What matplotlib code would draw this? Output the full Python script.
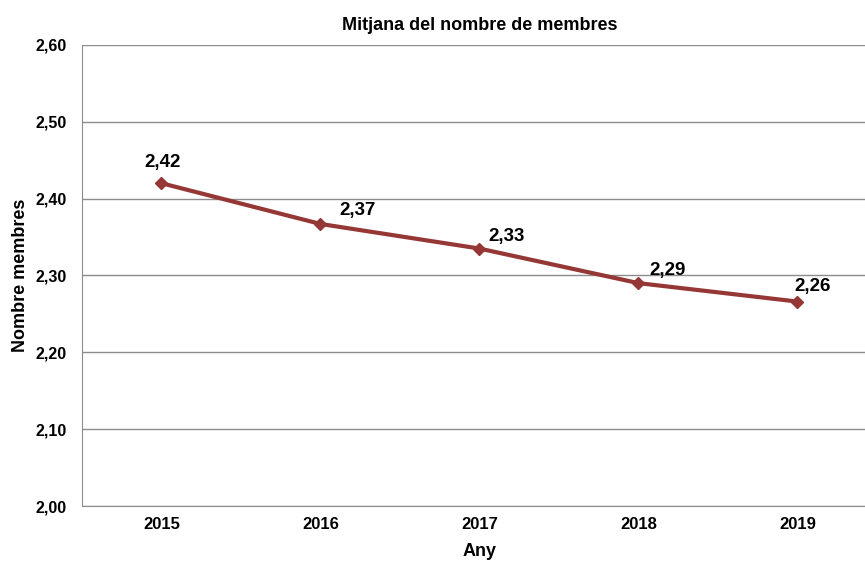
import matplotlib
matplotlib.use('Agg')
import matplotlib.pyplot as plt

plt.rcParams['font.family'] = ['Liberation Sans', 'DejaVu Sans']

# data
years = ['2015', '2016', '2017', '2018', '2019']
members = [2.42, 2.367, 2.335, 2.29, 2.266]
value_labels = ['2,42', '2,37', '2,33', '2,29', '2,26']
yticks = [2.00, 2.10, 2.20, 2.30, 2.40, 2.50, 2.60]

fig = plt.figure(figsize=(8.65, 5.61), dpi=100)
# plot area runs slightly past the right edge of the image, as in the original
ax = fig.add_axes([0.0948, 0.098, 0.919, 0.822])

x = list(range(len(years)))
ax.plot(x, members, color='#953735', linewidth=3, marker='D', markersize=6,
        zorder=3, clip_on=False)

# label offsets in pixels (right/above the points like in the original)
offsets = [(1, 21), (37, 13), (27, 12), (29, 13), (15, 15)]
for xi, v, lab, off in zip(x, members, value_labels, offsets):
    ax.annotate(lab, (xi, v), xytext=off, textcoords='offset pixels',
                ha='center', va='center', fontsize=13.5, fontweight='bold')

ax.set_xlim(-0.5, len(years) - 0.5)
ax.set_ylim(2.0, 2.6)
ax.set_xticks(x)
ax.set_xticklabels(years, fontsize=12, fontweight='bold')
ax.set_yticks(yticks)
ax.set_yticklabels([f'{t:.2f}'.replace('.', ',') for t in yticks], fontsize=11.5, fontweight='bold')
ax.tick_params(length=0)
ax.tick_params(axis='y', pad=11)
ax.tick_params(axis='x', pad=8)

ax.grid(axis='y', color='#8c8c8c', linewidth=1)
ax.set_axisbelow(True)
for s in ['top', 'right']:
    ax.spines[s].set_visible(False)
for s in ['left', 'bottom']:
    ax.spines[s].set_color('#8c8c8c')

ax.set_xlabel('Any', fontsize=13, fontweight='bold', labelpad=8)
ax.set_ylabel('Nombre membres', fontsize=13, fontweight='bold', labelpad=5)
ax.set_title('Mitjana del nombre de membres', fontsize=13, fontweight='bold', pad=11)

fig.savefig('out.png', dpi=100)
